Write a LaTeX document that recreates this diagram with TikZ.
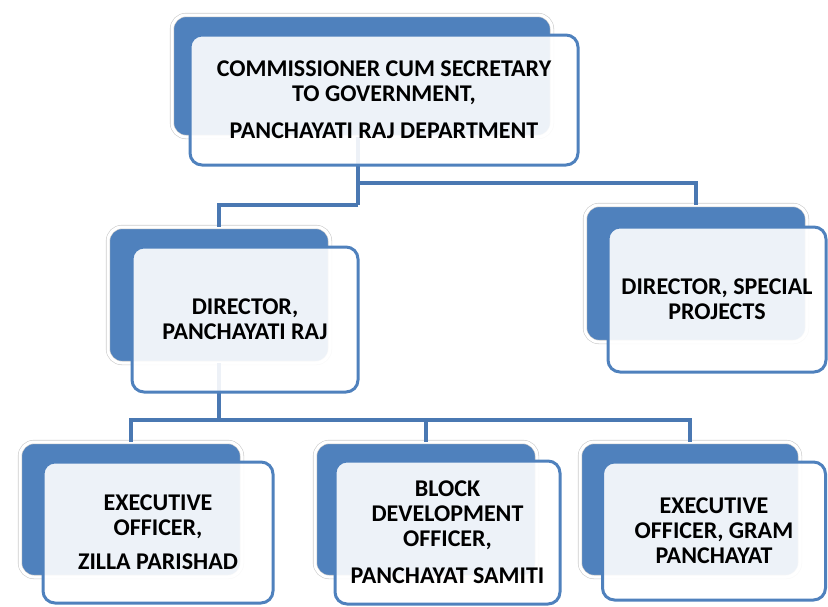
\documentclass[tikz,border=0pt]{standalone}
\usepackage{fontspec}
\setmainfont{Carlito}
\definecolor{ppblue}{HTML}{4F81BD}
\definecolor{connblue}{HTML}{4A78B2}
\begin{document}
\begin{tikzpicture}[x=1pt,y=-1pt,
  backbox/.style={rectangle, rounded corners=14pt, fill=ppblue, draw=black!20, double=white, double distance=3pt, line width=0.6pt, inner sep=0pt},
  frontbox/.style={rectangle, rounded corners=12pt, fill=white, fill opacity=0.9, text opacity=1, draw=ppblue, line width=3pt, align=center, inner sep=2pt, font=\bfseries\fontsize{24}{25}\selectfont},
  conn/.style={draw=connblue, line width=4pt}]
\useasboundingbox (0,0) rectangle (828,606);
% back boxes
\node[backbox, minimum width=380pt, minimum height=122pt] (topB) at (362,76) {};
\node[backbox, minimum width=222pt, minimum height=136pt] (dprB) at (219,295) {};
\node[backbox, minimum width=222pt, minimum height=137pt] (spB) at (696,273.5) {};
\node[backbox, minimum width=222pt, minimum height=135pt] (ziB) at (131,509.5) {};
\node[backbox, minimum width=222pt, minimum height=135pt] (blB) at (426,509.5) {};
\node[backbox, minimum width=220pt, minimum height=135pt] (grB) at (690,509.5) {};
% junctions
\coordinate (j1) at (358,205);
\coordinate (j2) at (358,183);
\coordinate (j3) at (219,420);
% connectors
\draw[conn] (j1 |- topB.south) -- (j1);
\draw[conn] (j1) -| (dprB.north);
\draw[conn] (j2) -| (spB.north);
\draw[conn] (dprB.south) -- (j3);
\draw[conn] (j3) -| (ziB.north);
\draw[conn] (j3) -| (blB.north);
\draw[conn] (j3) -| (grB.north);
% front boxes
\node[frontbox, minimum width=388pt, minimum height=130pt] (topF) at (384,100)
  {COMMISSIONER CUM SECRETARY\\TO GOVERNMENT,\\[12pt]PANCHAYATI RAJ DEPARTMENT};
\node[frontbox, minimum width=226pt, minimum height=145pt] (dprF) at (245,319.5)
  {DIRECTOR,\\PANCHAYATI RAJ};
\node[frontbox, minimum width=218pt, minimum height=145pt] (spF) at (717,299.5)
  {DIRECTOR, SPECIAL\\PROJECTS};
\node[frontbox, minimum width=230pt, minimum height=141pt] (ziF) at (158,532.5)
  {EXECUTIVE\\OFFICER,\\[9pt]ZILLA PARISHAD};
\node[frontbox, minimum width=225pt, minimum height=143pt] (blF) at (447.5,532.5)
  {BLOCK\\DEVELOPMENT\\OFFICER,\\[12pt]PANCHAYAT SAMITI};
\node[frontbox, minimum width=223pt, minimum height=138pt] (grF) at (714,531)
  {EXECUTIVE\\OFFICER, GRAM\\PANCHAYAT};
\end{tikzpicture}
\end{document}
